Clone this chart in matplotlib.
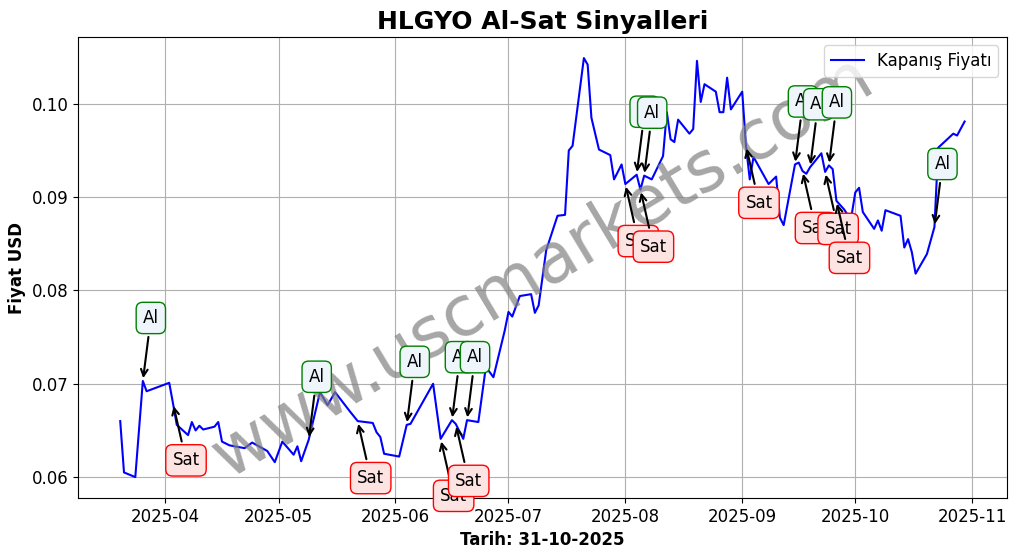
import matplotlib
matplotlib.use("Agg")
import matplotlib.pyplot as plt
import matplotlib.dates as mdates
import pandas as pd

# kapanis fiyatlari
tarihler = [
    "2025-03-20", "2025-03-21", "2025-03-24", "2025-03-26", "2025-03-27",
    "2025-04-02", "2025-04-03", "2025-04-04", "2025-04-07", "2025-04-08",
    "2025-04-09", "2025-04-10", "2025-04-11", "2025-04-14", "2025-04-15",
    "2025-04-16", "2025-04-18", "2025-04-22", "2025-04-24", "2025-04-28",
    "2025-04-29", "2025-04-30", "2025-05-02", "2025-05-05", "2025-05-06",
    "2025-05-07", "2025-05-09", "2025-05-12", "2025-05-14", "2025-05-16",
    "2025-05-20", "2025-05-22", "2025-05-26", "2025-05-27", "2025-05-28",
    "2025-05-29", "2025-06-02", "2025-06-04", "2025-06-05", "2025-06-11",
    "2025-06-13", "2025-06-16", "2025-06-17", "2025-06-19", "2025-06-20",
    "2025-06-23", "2025-06-25", "2025-06-27", "2025-06-30", "2025-07-01",
    "2025-07-02", "2025-07-04", "2025-07-07", "2025-07-08", "2025-07-09",
    "2025-07-11", "2025-07-14", "2025-07-16", "2025-07-17", "2025-07-18",
    "2025-07-21", "2025-07-22", "2025-07-23", "2025-07-25", "2025-07-28",
    "2025-07-29", "2025-07-31", "2025-08-01", "2025-08-04", "2025-08-05",
    "2025-08-06", "2025-08-08", "2025-08-11", "2025-08-12", "2025-08-13",
    "2025-08-14", "2025-08-15", "2025-08-18", "2025-08-19", "2025-08-20",
    "2025-08-21", "2025-08-22", "2025-08-25", "2025-08-26", "2025-08-27",
    "2025-08-28", "2025-08-29", "2025-09-01", "2025-09-02", "2025-09-03",
    "2025-09-04", "2025-09-08", "2025-09-10", "2025-09-11", "2025-09-12",
    "2025-09-15", "2025-09-16", "2025-09-17", "2025-09-18", "2025-09-19",
    "2025-09-22", "2025-09-23", "2025-09-24", "2025-09-25", "2025-09-26",
    "2025-09-28", "2025-09-29", "2025-09-30", "2025-10-01", "2025-10-02",
    "2025-10-03", "2025-10-06", "2025-10-07", "2025-10-08", "2025-10-09",
    "2025-10-13", "2025-10-14", "2025-10-15", "2025-10-16", "2025-10-17",
    "2025-10-20", "2025-10-22", "2025-10-23", "2025-10-27", "2025-10-28",
    "2025-10-30",
]
kapanis = [
    0.0660, 0.0605, 0.0600, 0.0703, 0.0692,
    0.0701, 0.0679, 0.0656, 0.0645, 0.0659,
    0.0650, 0.0655, 0.0651, 0.0654, 0.0659,
    0.0638, 0.0634, 0.0631, 0.0637, 0.0628,
    0.0622, 0.0616, 0.0638, 0.0624, 0.0633,
    0.0617, 0.0640, 0.0691, 0.0677, 0.0691,
    0.0670, 0.0660, 0.0658, 0.0648, 0.0643,
    0.0625, 0.0622, 0.0656, 0.0657, 0.0700,
    0.0641, 0.0661, 0.0657, 0.0641, 0.0661,
    0.0659, 0.0718, 0.0707, 0.0757, 0.0777,
    0.0772, 0.0794, 0.0796, 0.0776, 0.0784,
    0.0843, 0.0880, 0.0881, 0.0950, 0.0955,
    0.1049, 0.1042, 0.0985, 0.0951, 0.0945,
    0.0919, 0.0935, 0.0914, 0.0924, 0.0908,
    0.0923, 0.0919, 0.0944, 0.0991, 0.0962,
    0.0959, 0.0983, 0.0968, 0.0973, 0.1046,
    0.1002, 0.1021, 0.1013, 0.0991, 0.0991,
    0.1028, 0.0994, 0.1013, 0.0955, 0.0919,
    0.0943, 0.0914, 0.0922, 0.0878, 0.0870,
    0.0935, 0.0937, 0.0928, 0.0925, 0.0932,
    0.0947, 0.0927, 0.0934, 0.0930, 0.0896,
    0.0887, 0.0881, 0.0880, 0.0905, 0.0910,
    0.0884, 0.0866, 0.0875, 0.0864, 0.0886,
    0.0880, 0.0846, 0.0855, 0.0841, 0.0818,
    0.0839, 0.0868, 0.0953, 0.0968, 0.0966,
    0.0981,
]

# sinyal tarihleri
al_tarihleri = ["2025-03-26", "2025-05-09", "2025-06-04", "2025-06-16", "2025-06-20",
                "2025-08-04", "2025-08-06", "2025-09-15", "2025-09-19", "2025-09-24",
                "2025-10-22"]
sat_tarihleri = ["2025-04-03", "2025-05-22", "2025-06-13", "2025-06-17", "2025-08-01",
                 "2025-08-05", "2025-09-02", "2025-09-17", "2025-09-23", "2025-09-26"]

seri = pd.Series(kapanis, index=pd.to_datetime(tarihler))

fig = plt.figure(figsize=(10.17, 5.54), dpi=100)
ax = fig.add_subplot(111)
fig.subplots_adjust(left=0.0767, right=0.990, top=0.933, bottom=0.101)

ax.plot(seri.index, seri.values, color="blue", lw=1.5, label="Kapanış Fiyatı")

# filigran
ax.text(0.5, 0.5, "www.uscmarkets.com", transform=ax.transAxes, fontsize=50,
        color="gray", alpha=0.7, rotation=31, ha="center", va="center")

for t in al_tarihleri:
    d = pd.Timestamp(t)
    ax.annotate("Al", xy=(d, seri[d]), xytext=(8, 63), textcoords="offset pixels",
                ha="center", va="center", fontsize=12,
                bbox=dict(boxstyle="round,pad=0.4", fc="#eef5fb", ec="green"),
                arrowprops=dict(arrowstyle="->", color="black", lw=1.5))

for t in sat_tarihleri:
    d = pd.Timestamp(t)
    ax.annotate("Sat", xy=(d, seri[d]), xytext=(13, -57), textcoords="offset pixels",
                ha="center", va="center", fontsize=12,
                bbox=dict(boxstyle="round,pad=0.4", fc="#fde3e1", ec="red"),
                arrowprops=dict(arrowstyle="->", color="black", lw=1.5))

ax.set_title("HLGYO Al-Sat Sinyalleri", fontsize=18, fontweight="bold")
ax.set_xlabel("Tarih: 31-10-2025", fontsize=12, fontweight="bold")
ax.set_ylabel("Fiyat USD", fontsize=12, fontweight="bold")
ax.xaxis.set_major_locator(mdates.MonthLocator())
ax.xaxis.set_major_formatter(mdates.DateFormatter("%Y-%m"))
ax.tick_params(labelsize=12)
ax.grid(True)
ax.legend(loc="upper right", fontsize=12)

fig.savefig("out.png", dpi=100)
